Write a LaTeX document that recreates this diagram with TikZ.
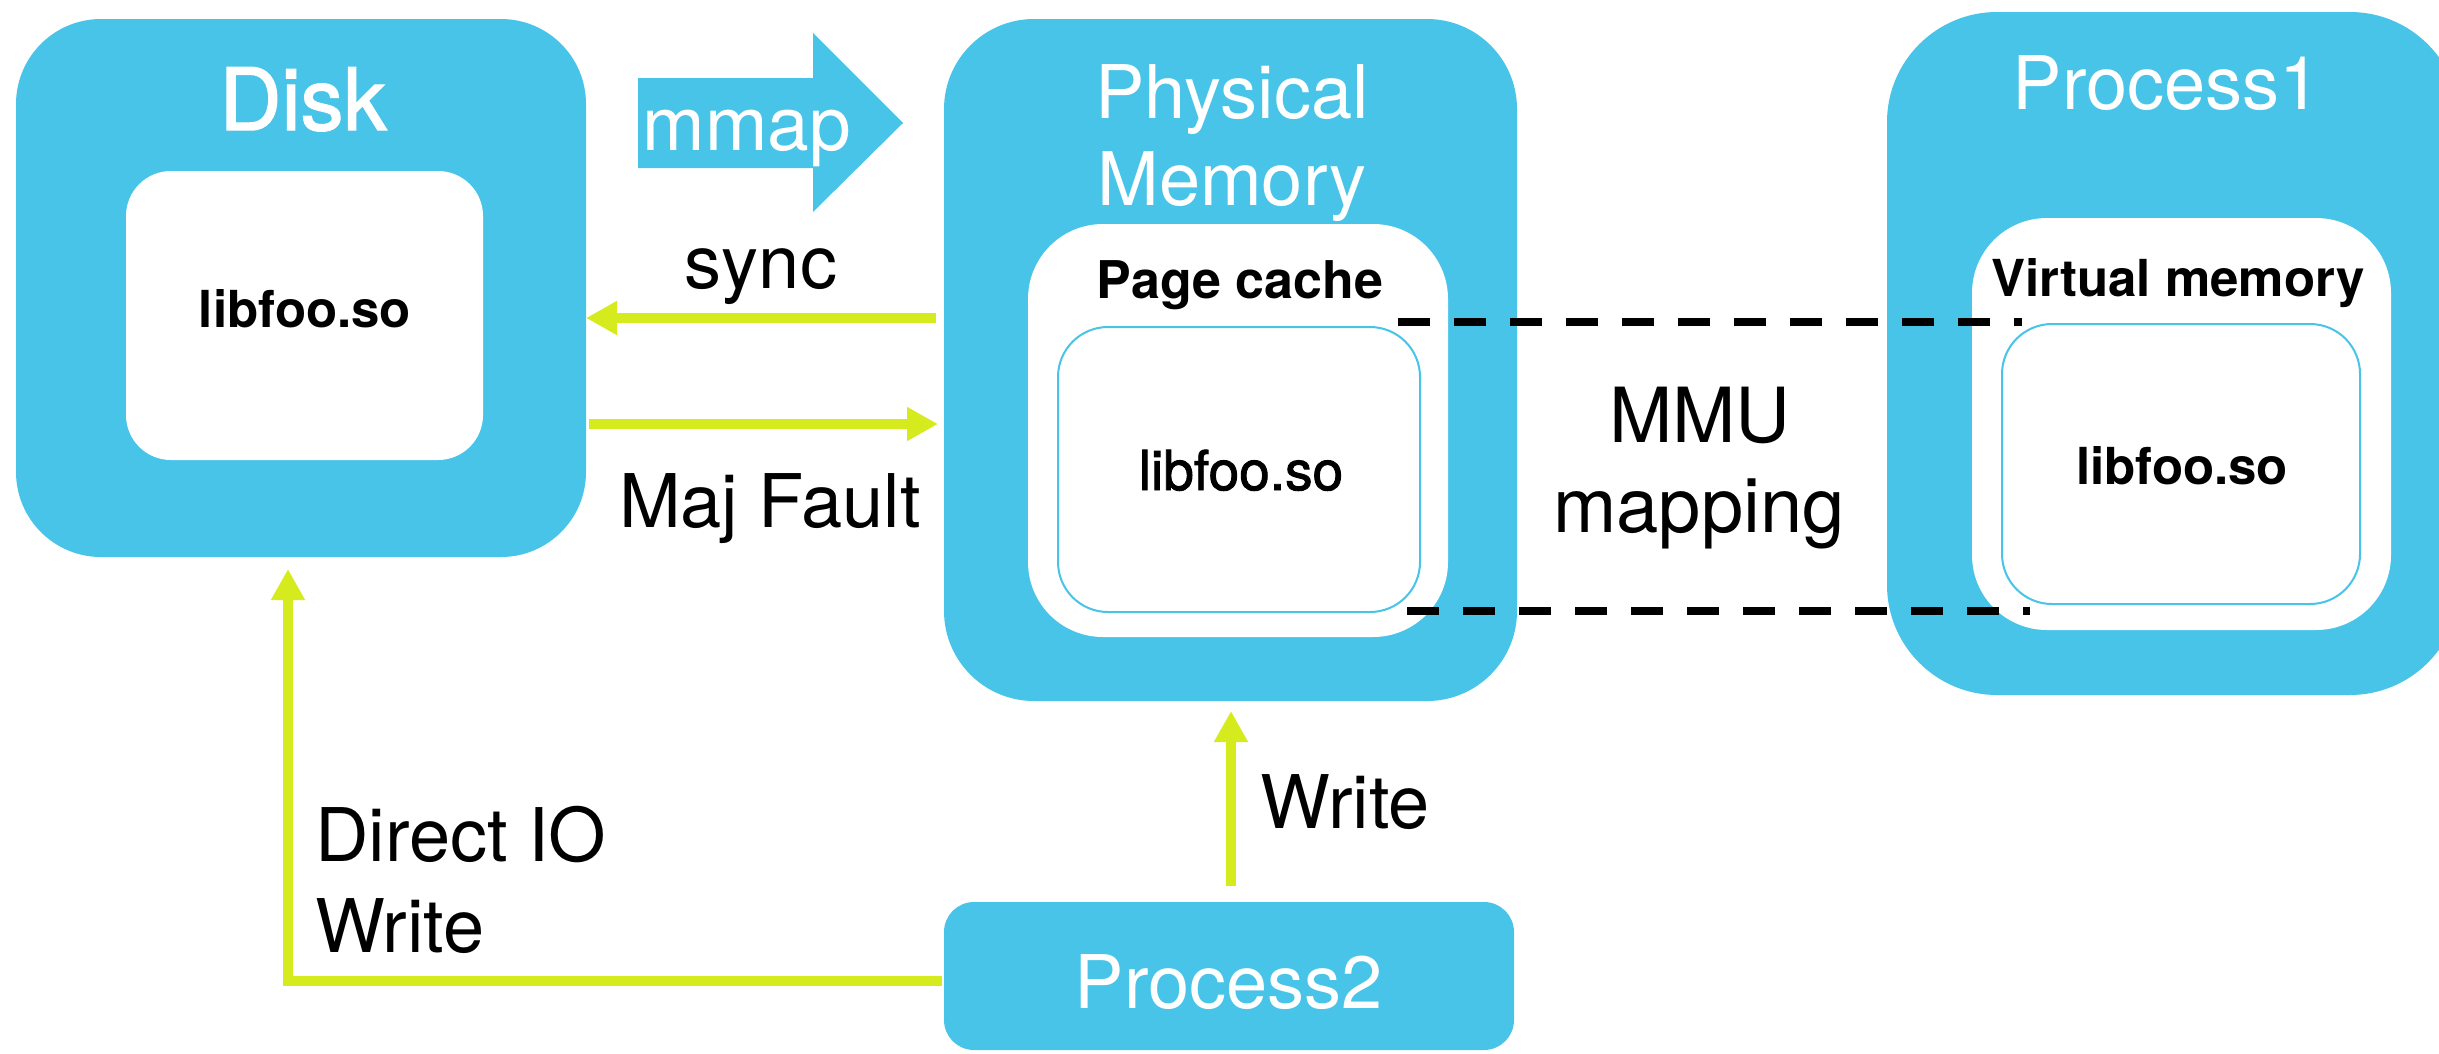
\documentclass[tikz,border=0pt]{standalone}
\usepackage{fontspec}
\setmainfont{TeX Gyre Heros}
\newfontfamily\medfont[FakeBold=1.6]{TeX Gyre Heros}
\usetikzlibrary{arrows.meta,calc}
\definecolor{boxblue}{HTML}{48C4E8}
\definecolor{arrowgreen}{HTML}{D5EB1E}
\begin{document}
\begin{tikzpicture}[x=1pt,y=-1pt,
  bluebox/.style={fill=boxblue, draw=none, inner sep=0pt, outer sep=0pt},
  whitebox/.style={fill=white, draw=none, inner sep=0pt, outer sep=0pt},
  libbox/.style={fill=white, draw=boxblue, line width=2pt, inner sep=0pt, outer sep=0pt},
  bigtxt/.style={inner sep=0pt, anchor=base, font=\fontsize{74}{88}\selectfont},
  wtxt/.style={bigtxt, text=white},
  boldtxt/.style={inner sep=0pt, anchor=base, font=\fontsize{51}{60}\selectfont\bfseries},
  libtxt/.style={inner sep=0pt, anchor=base, font=\fontsize{55}{64}\selectfont\medfont},
  arr/.style={draw=arrowgreen, line width=10pt, -{Triangle[length=31pt,width=32pt]}},
  dashline/.style={black, line width=7.5pt, dash pattern=on 32pt off 24pt},
]
\useasboundingbox (0,0) rectangle (2439,1053);
\clip (0,0) rectangle (2439,1053);

% Disk
\node[bluebox, rounded corners=85pt, minimum width=570pt, minimum height=538pt] (disk) at (301,288) {};
\node[wtxt, font=\fontsize{86}{100}\selectfont\medfont] (disktitle) at (303,130) {Disk};
\node[whitebox, rounded corners=45pt, minimum width=357pt, minimum height=289pt] (disklib) at (304.5,315.5) {};
\node[boldtxt] (disklibtxt) at (305,327) {libfoo.so};

% mmap arrow
\fill[boxblue] (638,78) -- (813,78) -- (813,33) -- (903,123) -- (813,212) -- (813,168) -- (638,168) -- cycle;
\node[wtxt, font=\fontsize{75}{88}\selectfont] (mmap) at (747,150) {mmap};

% Physical memory
\node[bluebox, rounded corners=90pt, minimum width=573pt, minimum height=682pt] (pm) at (1230.5,360) {};
\node[wtxt] (pmt1) at (1232,118) {Physical};
\node[wtxt] (pmt2) at (1232,205) {Memory};
\node[whitebox, rounded corners=75pt, minimum width=420pt, minimum height=413pt] (pc) at (1238,430.5) {};
\node[boldtxt, font=\fontsize{52}{60}\selectfont\bfseries] (pctxt) at (1240,298) {Page cache};
\node[libbox, rounded corners=50pt, minimum width=362pt, minimum height=285pt] (pclib) at (1239,469.5) {};
\node[libtxt] (pclibtxt) at (1241,490) {libfoo.so};

% Process1
\node[bluebox, rounded corners=110pt, minimum width=573pt, minimum height=683pt] (p1) at (2173.5,353.5) {};
\node[wtxt] (p1t) at (2167,109) {Process1};
\node[whitebox, rounded corners=75pt, minimum width=419pt, minimum height=412pt] (vm) at (2181.5,424) {};
\node[boldtxt] (vmtxt) at (2178,296) {Virtual memory};
\node[libbox, rounded corners=50pt, minimum width=358pt, minimum height=280pt] (vmlib) at (2181,464) {};
\node[boldtxt] (vmlibtxt) at (2182,484) {libfoo.so};

% Process2
\node[bluebox, rounded corners=30pt, minimum width=570pt, minimum height=148pt] (p2) at (1229,976) {};
\node[wtxt] (p2t) at (1229,1008) {Process2};

% helper coordinates
\coordinate (ysync) at (0,318);
\coordinate (ymaj) at (0,424);
\coordinate (xwr) at (1231,0);
\coordinate (ydio) at (0,981);
\coordinate (xdio) at (288,0);

% arrows
\draw[arr, shorten <=8pt] (pm.west |- ysync) -- (disk.east |- ysync);
\draw[arr, shorten <=3pt, shorten >=6pt] (disk.east |- ymaj) -- (pm.west |- ymaj);
\draw[arr, shorten <=16pt, shorten >=10pt] (p2.north -| xwr) -- (pm.south -| xwr);
\draw[arr, shorten <=2pt, shorten >=12pt] (p2.west |- ydio) -| (disk.south -| xdio);

% labels
\node[bigtxt] (synct) at (761,288) {sync};
\node[bigtxt] (majt) at (770,527) {Maj Fault};
\node[bigtxt] (writet) at (1345,828) {Write};
\node[bigtxt, anchor=base west] (dio1) at (315,861) {Direct IO};
\node[bigtxt, anchor=base west] (dio2) at (315,952) {Write};
\node[bigtxt, font=\fontsize{76}{90}\selectfont] (mmu1) at (1700,442) {MMU};
\node[bigtxt, font=\fontsize{76}{90}\selectfont] (mmu2) at (1699,532) {mapping};

% dashed mapping lines
\coordinate (d1s) at (1398,322);
\coordinate (d1e) at (2022,322);
\coordinate (d2s) at (1407,611);
\coordinate (d2e) at (2030,611);
\draw[dashline] (d1s) -- (d1e);
\draw[dashline] (d2s) -- (d2e);
\end{tikzpicture}
\end{document}
